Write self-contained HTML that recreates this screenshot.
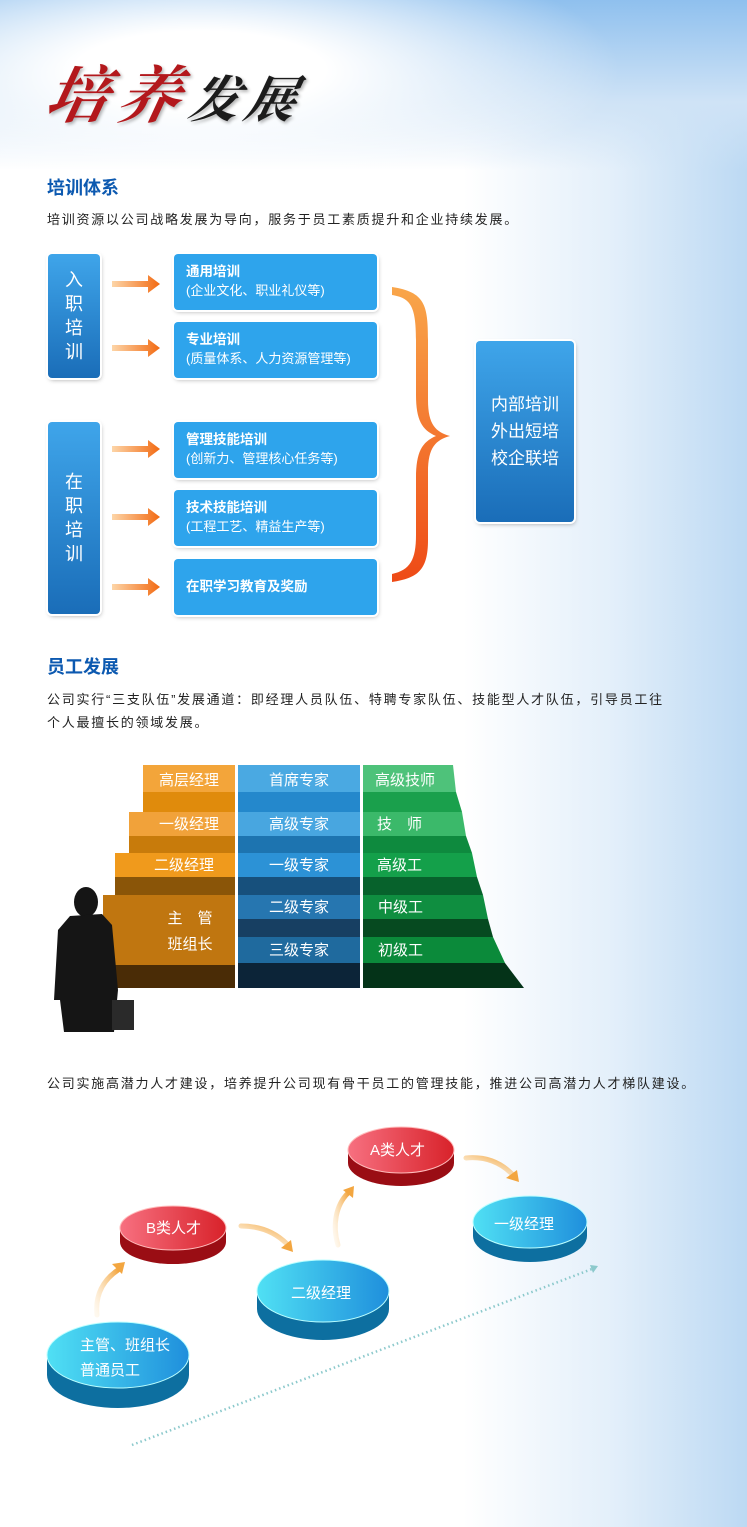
<!DOCTYPE html>
<html><head><meta charset="utf-8"><style>
*{margin:0;padding:0;box-sizing:border-box}
body{width:747px;height:1527px;position:relative;overflow:hidden;font-family:"Liberation Sans","Noto Sans CJK SC",sans-serif;
background:linear-gradient(90deg,#fff 0%,#fff 62%,#e3effa 82%,#bcd9f3 100%);}
.sky{position:absolute;left:0;top:0;width:747px;height:170px;background:radial-gradient(ellipse 420px 130px at 200px 70px,#fff 30%,rgba(255,255,255,0) 100%),linear-gradient(180deg,#8fc0ee 0%,#cfe3f6 60%,rgba(255,255,255,0) 100%);}
.a{position:absolute}
.h{position:absolute;left:47px;color:#0c59b0;font-size:18px;font-weight:bold}
.t{position:absolute;left:47px;font-size:13px;color:#222;letter-spacing:1.75px;white-space:nowrap}
.lb{position:absolute;left:48px;width:52px;background:linear-gradient(180deg,#3fa5ea,#1a6db8);border-radius:4px;box-shadow:0 0 0 2px #fff,1px 2px 5px rgba(0,0,0,.35);color:#fff;font-size:18px;text-align:center;line-height:24px;display:flex;flex-direction:column;justify-content:center}
.rb{position:absolute;left:174px;width:203px;height:56px;background:#2ea4ec;border-radius:4px;box-shadow:0 0 0 2px #fff,1px 2px 5px rgba(0,0,0,.3);color:#fff;padding:8px 12px;font-size:13px;line-height:19px}
.rb b{font-size:13.5px}
.st{position:absolute;color:#fff;font-size:15px;text-align:center}
</style></head><body>
<div class="sky"></div>
<div class="a" style="left:48px;top:46px;font-family:'Liberation Serif','Noto Serif CJK SC',serif;font-style:italic;font-weight:bold;color:#b3181c;font-size:62px;letter-spacing:10px;text-shadow:2px 2px 3px rgba(0,0,0,.3);transform:skewX(-12deg);white-space:nowrap">培养<span style="color:#1c1c1c;font-size:50px;letter-spacing:6px">发展</span></div>

<div class="h" style="top:174px">培训体系</div>
<div class="t" style="top:209px">培训资源以公司战略发展为导向，服务于员工素质提升和企业持续发展。</div>

<div class="lb" style="top:254px;height:124px">入<br>职<br>培<br>训</div>
<div class="lb" style="top:422px;height:192px">在<br>职<br>培<br>训</div>

<svg class="a" style="left:0;top:0" width="747" height="1527">
<defs>
<linearGradient id="ar" x1="0" x2="1"><stop offset="0" stop-color="#fdd5a8"/><stop offset="1" stop-color="#f26a12"/></linearGradient>
<linearGradient id="br" x1="0" y1="0" x2="0" y2="1"><stop offset="0" stop-color="#f9a64a"/><stop offset="1" stop-color="#ee4a16"/></linearGradient>
<linearGradient id="cb" x1="0" x2="1"><stop offset="0" stop-color="#50e0f4"/><stop offset="1" stop-color="#1f8fdc"/></linearGradient>
<linearGradient id="cr" x1="0" x2="1"><stop offset="0" stop-color="#f77080"/><stop offset="1" stop-color="#d8222a"/></linearGradient>
<linearGradient id="oa" x1="0" y1="1" x2="1" y2="0"><stop offset="0" stop-color="#fde9c8" stop-opacity=".3"/><stop offset="1" stop-color="#f3a640"/></linearGradient>
</defs>
<g fill="url(#ar)">
<path d="M112 281h36v-6l12 9-12 9v-6h-36z"/>
<path d="M112 345h36v-6l12 9-12 9v-6h-36z"/>
<path d="M112 446h36v-6l12 9-12 9v-6h-36z"/>
<path d="M112 514h36v-6l12 9-12 9v-6h-36z"/>
<path d="M112 584h36v-6l12 9-12 9v-6h-36z"/>
</g>
<path d="M392 287 C425 292,428 305,428 340 L428 400 C428 425,436 432,450 436 C436 440,428 447,428 472 L428 540 C428 570,418 578,392 582 L392 574 C410 570,416 560,416 535 L416 478 C416 452,422 442,436 436 C422 430,416 420,416 395 L416 340 C416 305,410 298,392 295 Z" fill="url(#br)"/>
<line x1="132" y1="1445" x2="592" y2="1269" stroke="#8cc9cc" stroke-width="2.5" stroke-dasharray="1.5 3"/>
<path d="M590 1265l8 1-5 7z" fill="#8cc9cc"/>
<g fill="none" stroke="url(#oa)" stroke-width="5" stroke-linecap="round">
<path d="M97 1315 C95 1295,103 1280,118 1270"/>
<path d="M241 1226 C262 1226,277 1234,287 1244"/>
<path d="M338 1245 C332 1225,336 1205,348 1193"/>
<path d="M466 1158 C487 1156,502 1164,512 1174"/>
</g>
<g fill="#f3a640">
<path d="M112 1264l13-2-3 12z"/><path d="M281 1248l12 4-2-12z"/><path d="M343 1190l11-4-1 12z"/><path d="M506 1178l13 4-2-12z"/>
</g>
<g>
<path d="M47 1355v20a71 33 0 0 0 142 0v-20z" fill="#0d6fa0"/>
<ellipse cx="118" cy="1355" rx="71" ry="33" fill="url(#cb)" stroke="#bff" stroke-width="1"/>
<path d="M257 1291v18a66 31 0 0 0 132 0v-18z" fill="#0d6fa0"/>
<ellipse cx="323" cy="1291" rx="66" ry="31" fill="url(#cb)" stroke="#bff"/>
<path d="M473 1222v14a57 26 0 0 0 114 0v-14z" fill="#0d6fa0"/>
<ellipse cx="530" cy="1222" rx="57" ry="26" fill="url(#cb)" stroke="#bff"/>
<path d="M120 1228v14a53 22 0 0 0 106 0v-14z" fill="#9a0d14"/>
<ellipse cx="173" cy="1228" rx="53" ry="22" fill="url(#cr)" stroke="#fbb"/>
<path d="M348 1150v13a53 23 0 0 0 106 0v-13z" fill="#9a0d14"/>
<ellipse cx="401" cy="1150" rx="53" ry="23" fill="url(#cr)" stroke="#fbb"/>
</g>
<g fill="#fff" font-size="15" font-family="Liberation Sans,Noto Sans CJK SC,sans-serif">
<text x="80" y="1350">主管、班组长</text><text x="80" y="1375">普通员工</text>
<text x="291" y="1298">二级经理</text>
<text x="494" y="1229">一级经理</text>
<text x="146" y="1233">B类人才</text>
<text x="370" y="1155">A类人才</text>
</g>
<path d="M143 765H235V988H103V895H115V853H129V812H143Z" fill="#c97a08"/>
<rect x="143" y="765" width="92" height="27" fill="#f3a53a"/><rect x="143" y="792" width="92" height="20" fill="#e08b0c"/>
<rect x="129" y="812" width="106" height="24" fill="#f1a23a"/><rect x="129" y="836" width="106" height="17" fill="#c87b0b"/>
<rect x="115" y="853" width="120" height="24" fill="#f09a1c"/><rect x="115" y="877" width="120" height="18" fill="#8a5508"/>
<rect x="103" y="895" width="132" height="70" fill="#c07610"/><rect x="103" y="965" width="132" height="23" fill="#4a2c06"/>
<rect x="238" y="765" width="122" height="27" fill="#4aa9e2"/><rect x="238" y="792" width="122" height="20" fill="#2488cc"/>
<rect x="238" y="812" width="122" height="24" fill="#48a6e0"/><rect x="238" y="836" width="122" height="17" fill="#1d74b0"/>
<rect x="238" y="853" width="122" height="24" fill="#2c92d6"/><rect x="238" y="877" width="122" height="18" fill="#17507c"/>
<rect x="238" y="895" width="122" height="24" fill="#2676b0"/><rect x="238" y="919" width="122" height="18" fill="#173f62"/>
<rect x="238" y="937" width="122" height="26" fill="#1f6a9e"/><rect x="238" y="963" width="122" height="25" fill="#0c2438"/>
<path d="M363 765H453L456 792H363Z" fill="#4ec27a"/><path d="M363 792H456L462 812H363Z" fill="#1aa04c"/>
<path d="M363 812H462L466 836H363Z" fill="#3bb96a"/><path d="M363 836H466L472 853H363Z" fill="#0e8a3e"/>
<path d="M363 853H472L477 877H363Z" fill="#14a04a"/><path d="M363 877H477L483 895H363Z" fill="#07622c"/>
<path d="M363 895H483L488 919H363Z" fill="#0f8e40"/><path d="M363 919H488L493 937H363Z" fill="#064a20"/>
<path d="M363 937H493L505 963H363Z" fill="#0b8a3a"/><path d="M363 963H505L524 988H363Z" fill="#043318"/>
<g fill="#151515">
<ellipse cx="86" cy="902" rx="12" ry="15"/>
<path d="M70 916 L102 914 L112 925 L118 990 L114 1032 L64 1032 L60 1000 L54 1000 L58 930 Z"/>
<rect x="112" y="1000" width="22" height="30" fill="#2a2a2a"/>
</g>
</svg>

<div class="rb" style="top:254px"><b>通用培训</b><br>(企业文化、职业礼仪等)</div>
<div class="rb" style="top:322px"><b>专业培训</b><br>(质量体系、人力资源管理等)</div>
<div class="rb" style="top:422px"><b>管理技能培训</b><br>(创新力、管理核心任务等)</div>
<div class="rb" style="top:490px"><b>技术技能培训</b><br>(工程工艺、精益生产等)</div>
<div class="rb" style="top:559px;line-height:40px;padding-top:8px"><b>在职学习教育及奖励</b></div>
<div class="lb" style="left:476px;top:341px;width:98px;height:181px;font-size:17px;line-height:27px">内部培训<br>外出短培<br>校企联培</div>

<div class="h" style="top:653px">员工发展</div>
<div class="t" style="top:688px;line-height:23px">公司实行“三支队伍”发展通道：即经理人员队伍、特聘专家队伍、技能型人才队伍，引导员工往<br>个人最擅长的领域发展。</div>

<div class="st" style="left:143px;top:769px;width:92px">高层经理</div>
<div class="st" style="left:143px;top:813px;width:92px">一级经理</div>
<div class="st" style="left:138px;top:854px;width:92px">二级经理</div>
<div class="st" style="left:150px;top:906px;width:80px;line-height:26px">主　管<br>班组长</div>
<div class="st" style="left:238px;top:769px;width:122px">首席专家</div>
<div class="st" style="left:238px;top:813px;width:122px">高级专家</div>
<div class="st" style="left:238px;top:854px;width:122px">一级专家</div>
<div class="st" style="left:238px;top:896px;width:122px">二级专家</div>
<div class="st" style="left:238px;top:939px;width:122px">三级专家</div>
<div class="st" style="left:375px;top:769px">高级技师</div>
<div class="st" style="left:377px;top:813px">技　师</div>
<div class="st" style="left:377px;top:854px">高级工</div>
<div class="st" style="left:378px;top:896px">中级工</div>
<div class="st" style="left:378px;top:939px">初级工</div>

<div class="t" style="top:1073px">公司实施高潜力人才建设，培养提升公司现有骨干员工的管理技能，推进公司高潜力人才梯队建设。</div>
</body></html>
